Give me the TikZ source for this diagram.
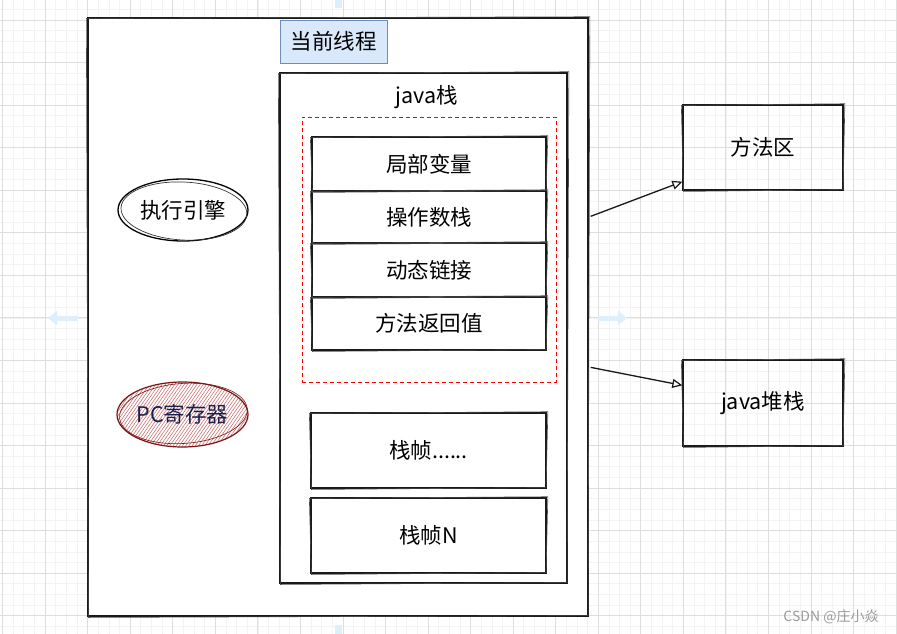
\documentclass[tikz,border=0pt]{standalone}
\usepackage{fontspec}
\setmainfont{Noto Sans CJK SC}
\usetikzlibrary{shapes.geometric,arrows.meta,patterns.meta,calc}

\definecolor{gridminor}{HTML}{F3F3F3}
\definecolor{gridmajor}{HTML}{DEDEDE}
\definecolor{titlefill}{HTML}{DAE8FC}
\definecolor{titledraw}{HTML}{6C8EBF}
\definecolor{pcdraw}{HTML}{7A1414}
\definecolor{pchatch}{HTML}{C96A6A}
\definecolor{pctext}{HTML}{1A1F4D}
\definecolor{hint}{HTML}{DDEFFA}
\definecolor{wmark}{HTML}{9A9A9A}

\newcommand{\skrect}[1]{%
  \draw[line width=0.6pt, black!70]
    ($(#1.north west)+(-1,1)$) -- ($(#1.north east)+(1.2,-0.6)$) --
    ($(#1.south east)+(-0.6,-1)$) -- ($(#1.south west)+(1,0.8)$) -- cycle;}

\begin{document}
\begin{tikzpicture}[x=1pt,y=-1pt,
  txt/.style={font=\fontsize{21.5}{25}\selectfont},
  lbl/.style={txt, inner sep=0pt},
  sketchbox/.style={draw=black!90, line width=1.3pt, inner sep=0pt, txt},
  rowbox/.style={sketchbox, minimum width=234pt},
  sideb/.style={sketchbox, minimum width=160pt},
  conn/.style={draw=black!90, line width=1.3pt,
    -{Triangle[open, length=10pt, width=9pt, line width=1.2pt]}},
  hintarrow/.style={draw=hint, line width=5pt,
    -{Triangle[length=9pt, width=14pt, fill=hint]}}]

\useasboundingbox (0,0) rectangle (897,634);
\fill[white] (0,0) rectangle (897,634);

% background grid
\foreach \i in {0,...,86}{
  \pgfmathsetmacro\xx{2.5+(\i-1)*10.6375}
  \draw[gridminor, line width=0.6pt] (\xx,0) -- (\xx,634);}
\foreach \j in {0,...,62}{
  \pgfmathsetmacro\yy{20+(\j-2)*10.6375}
  \draw[gridminor, line width=0.6pt] (0,\yy) -- (897,\yy);}
\foreach \i in {0,...,22}{
  \pgfmathsetmacro\xx{2.5+\i*42.55}
  \draw[gridmajor, line width=0.8pt] (\xx,0) -- (\xx,634);}
\foreach \j in {0,...,15}{
  \pgfmathsetmacro\yy{20+(\j-1)*42.55}
  \draw[gridmajor, line width=0.8pt] (0,\yy) -- (897,\yy);}

% faint hover hints
\draw[hintarrow] (77,318) -- (48,318);
\draw[hintarrow] (598,318) -- (627,318);
\fill[hint] (335,0) rectangle (342,8);
\fill[hint] (335,625) rectangle (342,634);

% outer thread box
\node[sketchbox, fill=white, minimum width=500pt, minimum height=598pt]
  (outer) at (338,317) {};
\skrect{outer}

% title
\node[draw=titledraw, fill=titlefill, line width=0.8pt,
  minimum width=107pt, minimum height=43pt, inner sep=0pt, txt]
  (title) at (333.5,41.5) {当前线程};

% java stack box
\node[sketchbox, minimum width=287pt, minimum height=510pt]
  (jstack) at (423.5,328) {};
\skrect{jstack}
\node[lbl] (jlabel) at (427,97) {java栈};

% red dashed frame
\node[draw=red, dash pattern=on 4pt off 3pt, line width=1pt,
  minimum width=254pt, minimum height=265pt, inner sep=0pt]
  (frame) at (429,249.5) {};

% frame rows
\node[rowbox, minimum height=54pt] (r1) at (429,164) {局部变量};
\node[rowbox, minimum height=52pt] (r2) at (429,217) {操作数栈};
\node[rowbox, minimum height=54pt] (r3) at (429,270) {动态链接};
\node[rowbox, minimum height=53pt] (r4) at (429,323.5) {方法返回值};
\skrect{r1}\skrect{r2}\skrect{r3}\skrect{r4}

% other frames
\node[rowbox, minimum width=235pt, minimum height=75pt] (f2) at (428.5,450.5) {栈帧......};
\node[rowbox, minimum width=235pt, minimum height=75pt] (fn) at (428.5,535.5) {栈帧N};
\skrect{f2}\skrect{fn}

% execution engine
\node[ellipse, draw=black, line width=1.3pt, minimum width=130pt,
  minimum height=62pt, inner sep=0pt, txt]
  (exec) at (183,210) {执行引擎};
\draw[line width=0.7pt, black!80, rotate around={-3:(exec.center)}]
  ($(exec.center)+(1,1)$) ellipse [x radius=63pt, y radius=29pt];

% PC register
\node[ellipse, draw=pcdraw, line width=1.2pt, minimum width=131pt,
  minimum height=65pt, inner sep=0pt,
  pattern={Lines[angle=55, distance=2.6pt, line width=0.55pt]},
  pattern color=pchatch, text=pctext, txt]
  (pc) at (182.5,414.5) {PC寄存器};
\draw[line width=0.6pt, pcdraw, rotate around={4:(pc.center)}]
  ($(pc.center)+(1,-1)$) ellipse [x radius=64pt, y radius=30pt];

% method area and heap
\node[sideb, minimum height=85pt] (fa) at (763,147.5) {方法区};
\node[sideb, minimum height=86pt] (js) at (763,403) {java堆栈};
\skrect{fa}\skrect{js}

% connectors
\coordinate (o1) at ($(outer.north east)+(2,199)$);
\coordinate (o2) at ($(outer.north east)+(2,350)$);
\draw[conn] (o1) -- ($(fa.south west)+(0,-9)$);
\draw[conn] (o2) -- ($(js.north west)+(0,26)$);

% watermark
\node[text=wmark, font=\fontsize{14}{16}\selectfont, inner sep=0pt]
  (wm) at (831,617) {CSDN @庄小焱};

\end{tikzpicture}
\end{document}
